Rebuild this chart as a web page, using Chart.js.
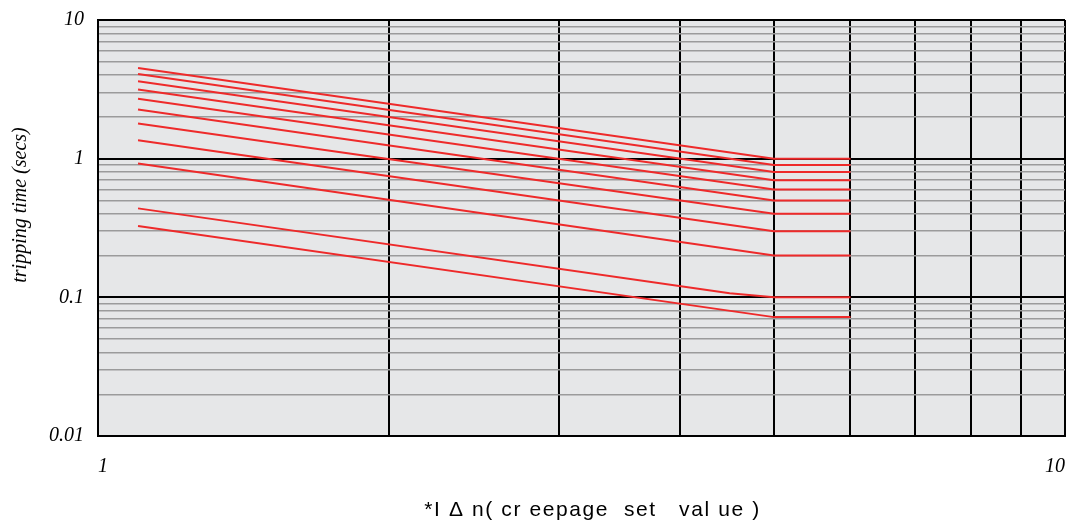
<!DOCTYPE html>
<html>
<head>
<meta charset="utf-8">
<title>tripping time</title>
<script src="https://cdn.jsdelivr.net/npm/chart.js@4.4.1/dist/chart.umd.min.js"></script>
<style>
  html, body { margin: 0; padding: 0; background: #fff; }
  canvas { display: block; }
</style>
</head>
<body>
<canvas id="myChart" width="1071" height="529"></canvas>
<script>
// x positions of every curve: start, knee, end (multiples of I delta n)
const curveX = [1.1, 5, 6];
// tripping time at the start of each curve (secs)
const startTimes = [4.51, 4.08, 3.62, 3.15, 2.70, 2.26, 1.79, 1.36, 0.923, 0.438, 0.327];
// tripping time from the knee on (flat part)
const kneeTimes = [1.0, 0.9, 0.8, 0.7, 0.6, 0.5, 0.4, 0.3, 0.2, 0.1, 0.072];
// the 0.1 s curve bends a little before the knee
const bendCurve = 9;
const bendX = 4.5;
const bendTime = 0.107;

// grid lines: 1..9 in every decade
const gridSteps = [1, 2, 3, 4, 5, 6, 7, 8, 9];
const xDecades = [1];
const yDecades = [0.01, 0.1, 1];

const xTickLabels = ["1", "10"];
const yTickLabels = ["0.01", "0.1", "1", "10"];

const yTitle = "tripping time (secs)";
const xTitle = "*I Δ n( cr eepage  set   val ue )";

function isDecade(v) {
    let l = Math.log10(v)
    return Math.abs(l - Math.round(l)) < 1e-6
}

function decadeLabel(v, labels) {
    if (!isDecade(v)) return ""
    let s = String(Math.round(v * 1000) / 1000)
    return labels.includes(s) ? s : ""
}

function gridTicks(decades) {
    let ticks = []
    decades.forEach(d => gridSteps.forEach(s => ticks.push({value: Math.round(d * s * 1000) / 1000})))
    ticks.push({value: decades[decades.length - 1] * 10})
    return ticks
}

let datasets = startTimes.map((t0, i) => {
    let pts = [{x: curveX[0], y: t0}]
    if (i === bendCurve) pts.push({x: bendX, y: bendTime})
    pts.push({x: curveX[1], y: kneeTimes[i]})
    pts.push({x: curveX[2], y: kneeTimes[i]})
    return {
        data: pts,
        borderColor: "#ee2a2a",
        borderWidth: 2,
        pointRadius: 0,
        showLine: true,
        fill: false,
        tension: 0
    }
})

const plotBack = {
    id: "plotBack",
    beforeDraw(chart) {
        let a = chart.chartArea
        let ctx = chart.ctx
        ctx.save()
        ctx.fillStyle = "#e6e7e8"
        ctx.fillRect(a.left, a.top, a.right - a.left, a.bottom - a.top)
        ctx.restore()
    },
    afterDraw(chart) {
        let a = chart.chartArea
        let ctx = chart.ctx
        ctx.save()
        ctx.fillStyle = "#000"
        ctx.textAlign = "center"
        ctx.textBaseline = "middle"
        ctx.font = "italic 20px 'Liberation Serif'"
        ctx.translate(21, a.top + 185)
        ctx.rotate(-Math.PI / 2)
        ctx.fillText(yTitle, 0, 0)
        ctx.restore()

        ctx.save()
        ctx.fillStyle = "#000"
        ctx.textAlign = "center"
        ctx.textBaseline = "middle"
        ctx.font = "21px 'Liberation Sans'"
        ctx.letterSpacing = "1.6px"
        ctx.fillText(xTitle, (a.left + a.right) / 2 + 11, a.bottom + 74)
        ctx.restore()
    }
}

const tickFont = {family: "'Liberation Serif'", style: "italic", size: 20}

new Chart("myChart", {
    type: "scatter",
    data: {datasets: datasets},
    plugins: [plotBack],
    options: {
        responsive: false,
        animation: false,
        devicePixelRatio: 1,
        layout: {padding: {top: 20, right: 6, left: 0, bottom: 0}},
        plugins: {legend: {display: false}, tooltip: {enabled: false}},
        scales: {
            x: {
                type: "logarithmic",
                min: 1,
                max: 10,
                afterBuildTicks: (scale) => { scale.ticks = gridTicks(xDecades) },
                afterFit: (scale) => {
                    scale.height = 93
                    scale.paddingLeft = 0
                    scale.paddingRight = 0
                },
                border: {display: true, color: "#000", width: 2},
                grid: {color: "#000", lineWidth: 2, drawTicks: false},
                ticks: {
                    autoSkip: false,
                    maxRotation: 0,
                    align: "inner",
                    padding: 19,
                    color: "#000",
                    font: tickFont,
                    callback: (v) => decadeLabel(v, xTickLabels)
                }
            },
            y: {
                type: "logarithmic",
                min: 0.01,
                max: 10,
                afterBuildTicks: (scale) => { scale.ticks = gridTicks(yDecades) },
                afterFit: (scale) => {
                    scale.width = 98
                    scale.paddingTop = 0
                    scale.paddingBottom = 0
                },
                border: {display: true, color: "#000", width: 2},
                grid: {
                    drawTicks: false,
                    color: (c) => isDecade(c.tick.value) ? "#000" : "#9b9b9b",
                    lineWidth: (c) => isDecade(c.tick.value) ? 2 : 1.5
                },
                ticks: {
                    autoSkip: false,
                    padding: 14,
                    color: "#000",
                    font: tickFont,
                    callback: (v) => decadeLabel(v, yTickLabels)
                }
            }
        }
    }
});
</script>
</body>
</html>
